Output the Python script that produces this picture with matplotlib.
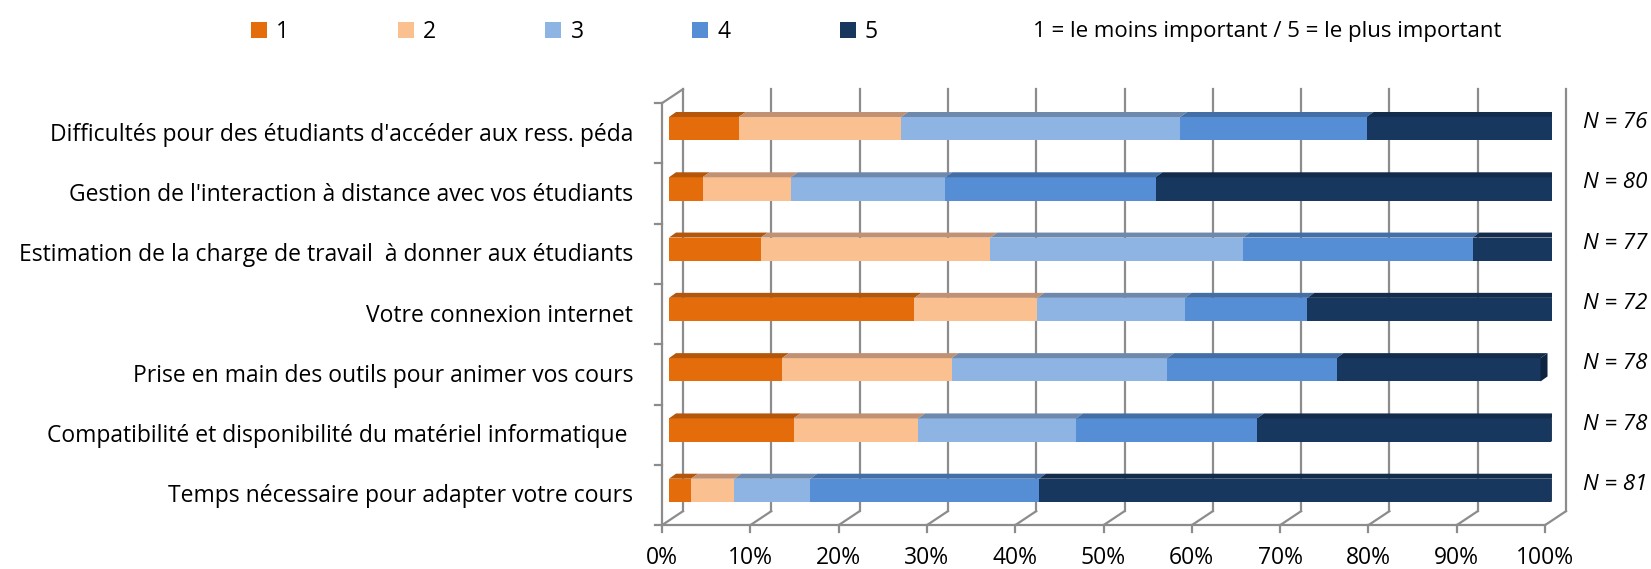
import numpy as np
import matplotlib
matplotlib.use('Agg')
import matplotlib.pyplot as plt
from matplotlib.patches import Polygon, Patch

plt.rcParams['font.family'] = ['Open Sans', 'DejaVu Sans']

# data (% of answers), top row first
categories = ["Difficultés pour des étudiants d'accéder aux ress. péda",
              "Gestion de l'interaction à distance avec vos étudiants",
              "Estimation de la charge de travail  à donner aux étudiants",
              "Votre connexion internet",
              "Prise en main des outils pour animer vos cours",
              "Compatibilité et disponibilité du matériel informatique ",
              "Temps nécessaire pour adapter votre cours"]
n_labels = ['N = 76', 'N = 80', 'N = 77', 'N = 72', 'N = 78', 'N = 78', 'N = 81']
p1 = [7.9, 3.8, 10.4, 27.8, 12.8, 14.1, 2.5]
p2 = [18.4, 10.0, 26.0, 13.9, 19.2, 14.1, 4.9]
p3 = [31.6, 17.5, 28.6, 16.7, 24.4, 17.9, 8.6]
p4 = [21.1, 23.8, 26.0, 13.9, 19.2, 20.5, 25.9]
p5 = [21.1, 45.0, 9.1, 27.8, 23.1, 33.3, 58.0]
series_names = ['1', '2', '3', '4', '5']
xticks = [0, 10, 20, 30, 40, 50, 60, 70, 80, 90, 100]

front_cols = ['#E46C0A', '#FAC090', '#8DB4E2', '#558ED5', '#17375E']
top_cols = ['#B5570A', '#C09173', '#6E89AC', '#436FA6', '#132C4B']
end_col = '#0F2440'
grid_col = '#8C8C8C'
fs = 16.5

W, H = 1651, 569
fig = plt.figure(figsize=(W / 100, H / 100), dpi=100)
ax = fig.add_axes([669 / W, 1 - 520.5 / H, 883 / W, 422 / H])
ax.set_xlim(0, 100)
ax.set_ylim(6.5, -0.5)
ax.axis('off')

px_x = 883 / 100.0   # pixels per %
px_y = 422 / 7.0     # pixels per category
depth_x, depth_y = 21, 14   # full depth of the box, in pixels


def dep(x, y, k):
    # point moved along the depth axis (k=-1/3 front wall, k=2/3 back wall)
    return x + k * depth_x / px_x, y - k * depth_y / px_y


kf, kb = -1 / 3, 2 / 3
lw = 1.6
y_top, y_bot = -0.5, 6.5

# back grid lines + floor diagonals + ticks
for t in xticks:
    x0, y0 = dep(t, y_top, kb)
    x1, y1 = dep(t, y_bot, kb)
    ax.plot([x0, x1], [y0, y1], color=grid_col, lw=lw, zorder=1, clip_on=False)
    fx, fy = dep(t, y_bot, kf)
    ax.plot([fx, x1], [fy, y1], color=grid_col, lw=lw, zorder=1, clip_on=False)
    ax.plot([fx, fx], [fy, fy + 7 / px_y], color=grid_col, lw=lw, zorder=1, clip_on=False)
    ax.text(fx, fy + 33 / px_y, f'{t}%', ha='center', va='center', fontsize=fs)

# front floor edge
a = dep(0, y_bot, kf)
b = dep(100, y_bot, kf)
ax.plot([a[0], b[0]], [a[1], b[1]], color=grid_col, lw=lw, zorder=1, clip_on=False)

# left wall
a = dep(0, y_top, kf)
b = dep(0, y_bot, kf)
ax.plot([a[0], b[0]], [a[1], b[1]], color=grid_col, lw=lw, zorder=1, clip_on=False)
c = dep(0, y_top, kb)
ax.plot([a[0], c[0]], [a[1], c[1]], color=grid_col, lw=lw, zorder=1, clip_on=False)
for yb in np.arange(-0.5, 7.0, 1.0):
    p = dep(0, yb, kf)
    ax.plot([p[0] - 7 / px_x, p[0]], [p[1], p[1]], color=grid_col, lw=lw, zorder=1, clip_on=False)

# bars
ypos = np.arange(len(categories))
bh = 23.3 / px_y
tdx, tdy = 7 / px_x, 5 / px_y
lefts = np.zeros(len(categories))
all_vals = [p1, p2, p3, p4, p5]
for j, vals in enumerate(all_vals):
    vals = np.array(vals)
    ax.barh(ypos, vals, left=lefts, height=bh, color=front_cols[j], lw=0, zorder=3)
    for i in ypos:
        l, r = lefts[i], lefts[i] + vals[i]
        top = i - bh / 2
        ax.add_patch(Polygon([(l, top), (r, top), (r + tdx, top - tdy), (l + tdx, top - tdy)],
                             closed=True, facecolor=top_cols[j], lw=0, zorder=3))
        if j == len(all_vals) - 1:
            bot = i + bh / 2
            ax.add_patch(Polygon([(r, top), (r + tdx, top - tdy), (r + tdx, bot - tdy), (r, bot)],
                                 closed=True, facecolor=end_col, lw=0, zorder=3))
    lefts = lefts + vals

# category labels and N
for i, cat in enumerate(categories):
    ax.text(-(669 - 633) / px_x, i + 6 / px_y, cat, ha='right', va='center', fontsize=fs)
    ax.text((1583 - 669) / px_x, i - 6 / px_y, n_labels[i], ha='left', va='center',
            fontsize=fs - 0.5, style='italic')

handles = [Patch(facecolor=c, edgecolor='none') for c in front_cols]
fig.legend(handles, series_names, loc='center left', bbox_to_anchor=(251 / W, 1 - 32 / H),
           ncol=5, frameon=False, fontsize=fs, handlelength=0.7, handleheight=0.7,
           handletextpad=0.4, columnspacing=4.75, borderpad=0, borderaxespad=0)
fig.text(1033 / W, 1 - 32 / H, '1 = le moins important / 5 = le plus important',
         ha='left', va='center', fontsize=fs - 0.5)

fig.savefig('out.png', dpi=100)
